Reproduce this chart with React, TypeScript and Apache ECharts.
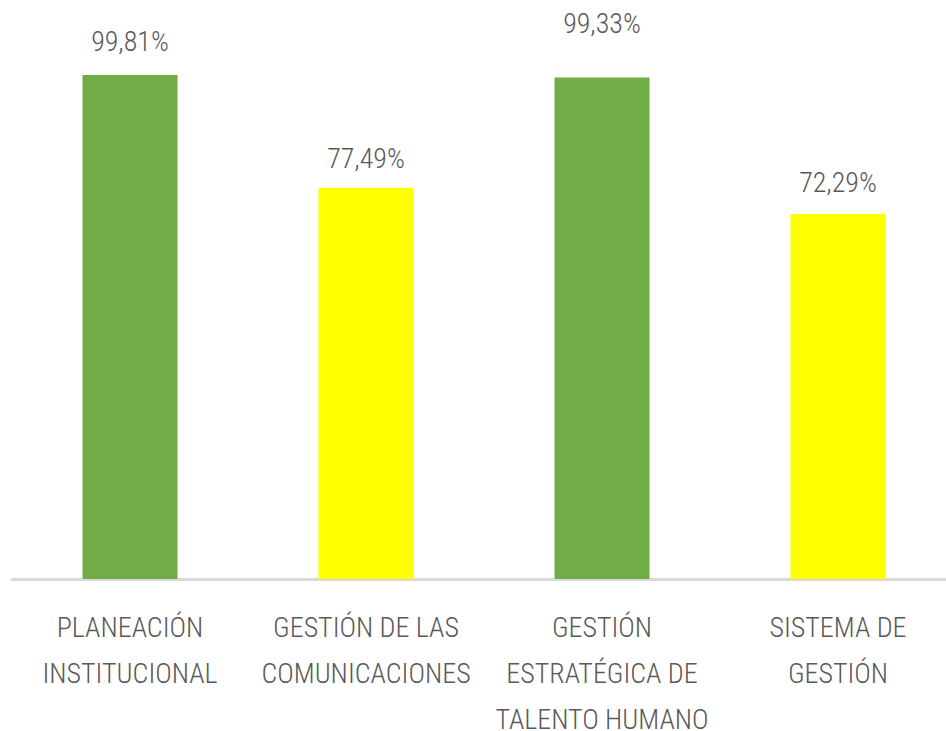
import React, { useEffect, useRef } from "react";
import * as echarts from "echarts";

const categories = [
  "PLANEACIÓN\nINSTITUCIONAL",
  "GESTIÓN DE LAS\nCOMUNICACIONES",
  "GESTIÓN\nESTRATÉGICA DE\nTALENTO HUMANO",
  "SISTEMA DE\nGESTIÓN",
];
const values = [99.81, 77.49, 99.33, 72.29];
const barColors = ["#70AD47", "#FFFF00", "#70AD47", "#FFFF00"];
// manual vertical nudges of the value labels, as in the reference
const labelNudge = [-2, 2, -23, 0];

const FONT = "'Roboto Condensed', 'DejaVu Sans Condensed', sans-serif";

export default function App() {
  const ref = useRef<HTMLDivElement>(null);
  useEffect(() => {
    if (!ref.current) return;
    const chart = echarts.init(ref.current, undefined, { renderer: "svg" });
    chart.setOption({
      animation: false,
      backgroundColor: "#ffffff",
      grid: { left: 12, width: 944, top: 74, bottom: 152, containLabel: false, outerBoundsMode: "none" },
      xAxis: {
        type: "category",
        data: categories,
        axisLine: { show: true, lineStyle: { color: "#D9D9D9", width: 3 } },
        axisTick: { show: false },
        axisLabel: {
          color: "#595959",
          fontFamily: FONT,
          fontWeight: 300,
          fontSize: 28,
          lineHeight: 46,
          margin: 25,
          interval: 0,
        },
      },
      yAxis: {
        type: "value",
        min: 0,
        max: 100,
        show: false,
        splitLine: { show: false },
      },
      series: [
        {
          type: "bar",
          barWidth: 95,
          data: values.map((v, i) => ({
            value: v,
            itemStyle: { color: barColors[i] },
            label: { offset: [0, labelNudge[i]] },
          })),
          label: {
            show: true,
            position: "top",
            distance: 17,
            color: "#595959",
            fontFamily: FONT,
            fontWeight: 300,
            fontSize: 28,
            formatter: (p: any) => p.value.toFixed(2).replace(".", ",") + "%",
          },
        },
      ],
    });
    return () => chart.dispose();
  }, []);
  return (
    <div
      ref={ref}
      style={{ position: "absolute", left: 0, top: 0, width: 946, height: 731 }}
    />
  );
}
